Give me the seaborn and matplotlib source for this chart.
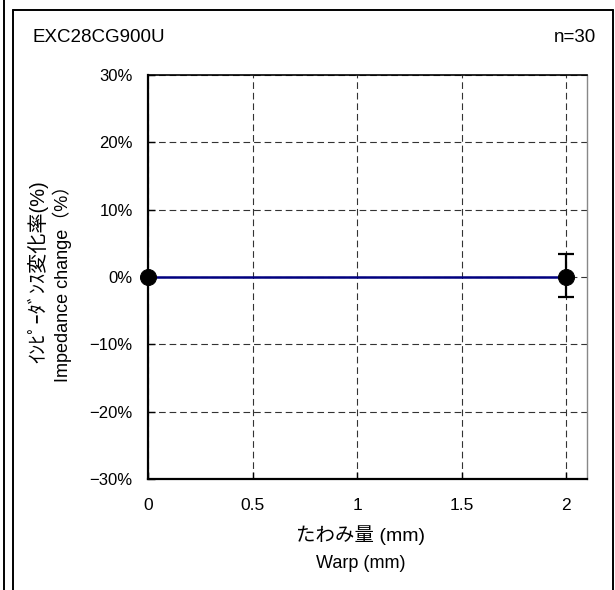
import matplotlib
matplotlib.use('Agg')
import matplotlib.pyplot as plt
import seaborn as sns
import pandas as pd
from matplotlib.lines import Line2D

# ---- data ----
warp_mm = [0, 2]
impedance_change = [0.0, 0.0]
err_minus = [0.0, 3.0]
err_plus = [0.0, 3.4]
x_ticks = [0, 0.5, 1, 1.5, 2]
x_tick_labels = ['0', '0.5', '1', '1.5', '2']
y_ticks = [-30, -20, -10, 0, 10, 20, 30]
y_tick_labels = ['\u221230%', '\u221220%', '\u221210%', '0%', '10%', '20%', '30%']
part_name = 'EXC28CG900U'
sample_n = 'n=30'

sns.set_theme(style='white')
plt.rcParams['font.family'] = ['Liberation Sans', 'Noto Sans CJK JP']
plt.rcParams['text.color'] = 'black'
plt.rcParams['axes.labelcolor'] = 'black'
plt.rcParams['xtick.color'] = 'black'
plt.rcParams['ytick.color'] = 'black'

W, H = 615, 590
fig = plt.figure(figsize=(W / 100, H / 100), dpi=100)
L, R, T, B = 148, 587, 75, 479
ax = fig.add_axes([L / W, 1 - B / H, (R - L) / W, (B - T) / H])

df = pd.DataFrame({'warp': warp_mm, 'change': impedance_change})

ax.errorbar(warp_mm, impedance_change, yerr=[err_minus, err_plus], fmt='none',
            ecolor='black', elinewidth=1.6, capsize=5.5, capthick=1.6, zorder=3)
sns.lineplot(data=df, x='warp', y='change', ax=ax, color='#000080', lw=1.8,
             marker='o', markersize=11.5, markerfacecolor='black',
             markeredgecolor='black', zorder=4, clip_on=False)

ax.set_xlim(0, 2.1)
ax.set_ylim(-30, 30)
ax.set_xticks(x_ticks)
ax.set_xticklabels(x_tick_labels, fontsize=12.5)
ax.set_yticks(y_ticks)
ax.set_yticklabels(y_tick_labels, fontsize=12)
ax.set_xlabel('')
ax.set_ylabel('')
ax.grid(True, linestyle=(0, (6, 3.5)), color='#333333', linewidth=0.8)
ax.tick_params(direction='in', length=5, width=1, left=True, bottom=True)
ax.tick_params(axis='y', pad=11)
ax.tick_params(axis='x', pad=14)

for side, lw, col in [('left', 1.6, 'black'), ('bottom', 1.6, 'black'),
                      ('top', 1.2, 'black'), ('right', 1.0, '#888888')]:
    ax.spines[side].set_visible(True)
    ax.spines[side].set_linewidth(lw)
    ax.spines[side].set_color(col)

# texts
fig.text(32 / W, 1 - 37 / H, part_name, fontsize=13.5, ha='left', va='center')
fig.text(596 / W, 1 - 38 / H, sample_n, fontsize=13.5, ha='right', va='center')
fig.text(360 / W, 1 - 535 / H, 'たわみ量 (mm)', fontsize=14, ha='center', va='center')
fig.text(361 / W, 1 - 563 / H, 'Warp (mm)', fontsize=13, ha='center', va='center')
fig.text(37.5 / W, 1 - 272 / H, 'ｲﾝﾋﾟｰﾀﾞﾝｽ変化率(%)', fontsize=14.5, rotation=90,
         ha='center', va='center')
fig.text(62 / W, 1 - 279 / H, 'Impedance change（%）', fontsize=13, rotation=90,
         ha='center', va='center')

# panel frame
fc = 'black'
fig.add_artist(Line2D([12.5 / W, 12.5 / W], [0, 1 - 10 / H], transform=fig.transFigure, color=fc, lw=1.4))
fig.add_artist(Line2D([12.5 / W, 612.5 / W], [1 - 10 / H, 1 - 10 / H], transform=fig.transFigure, color=fc, lw=1.4))
fig.add_artist(Line2D([612.5 / W, 612.5 / W], [0, 1 - 10 / H], transform=fig.transFigure, color=fc, lw=1.4))
fig.add_artist(Line2D([3.5 / W, 3.5 / W], [0, 1], transform=fig.transFigure, color=fc, lw=1.4))

fig.savefig('out.png', dpi=100, facecolor='white')
